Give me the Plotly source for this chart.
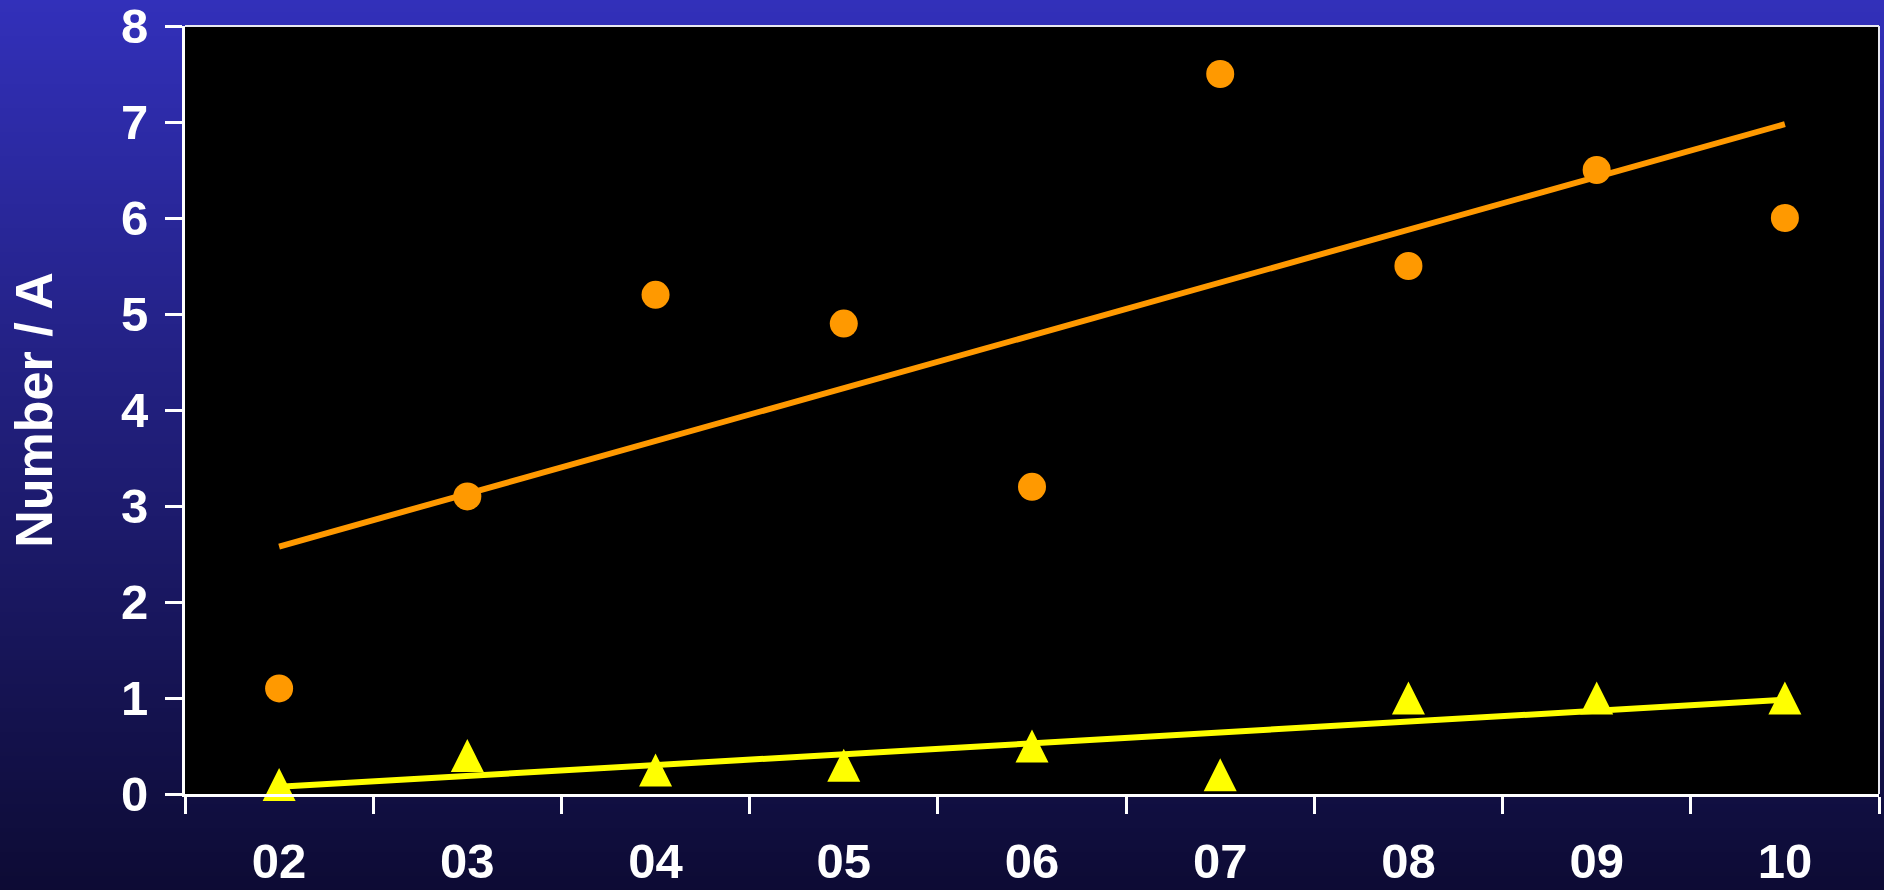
import numpy as np
import plotly.graph_objects as go

# ---- data ----
years = ["02", "03", "04", "05", "06", "07", "08", "09", "10"]
circle_values = [1.1, 3.1, 5.2, 4.9, 3.2, 7.5, 5.5, 6.5, 6.0]
triangle_values = [0.1, 0.4, 0.25, 0.3, 0.5, 0.2, 1.0, 1.0, 1.0]
y_tick_values = [0, 1, 2, 3, 4, 5, 6, 7, 8]
y_title = "Number / A"

# ---- layout geometry ----
W, H = 1884, 890
ML, MR, MT, MB = 185, 5, 26, 96
plot_w = W - ML - MR
plot_h = H - MT - MB
Y_MAX = 8

ORANGE = "#FF9900"
YELLOW = "#FFFF00"
FONT = "Liberation Sans, Arial, sans-serif"

idx = np.arange(len(years))


def trend(vals):
    m, b = np.polyfit(idx, np.asarray(vals, dtype=float), 1)
    return m * idx + b


TRI_SIZE = 33
tri_offset = (TRI_SIZE / 2) * Y_MAX / plot_h  # centre arrow-shaped triangle on point

fig = go.Figure()

fig.add_trace(go.Scatter(
    x=years, y=trend(circle_values), mode="lines",
    line=dict(color=ORANGE, width=6), hoverinfo="skip", showlegend=False))
fig.add_trace(go.Scatter(
    x=years, y=circle_values, mode="markers",
    marker=dict(symbol="circle", size=28, color=ORANGE, line=dict(width=0)),
    showlegend=False, cliponaxis=False))
fig.add_trace(go.Scatter(
    x=years, y=trend(triangle_values), mode="lines",
    line=dict(color=YELLOW, width=6), hoverinfo="skip", showlegend=False))
fig.add_trace(go.Scatter(
    x=years, y=triangle_values, mode="markers", yaxis="y2",
    marker=dict(symbol="arrow-up", size=TRI_SIZE, color=YELLOW, line=dict(width=0)),
    showlegend=False, cliponaxis=False))

# ---- gradient background (strips) ----
shapes = []
top = np.array([50, 48, 186])
bot = np.array([13, 11, 52])
step = 4
n = int(np.ceil(H / step))
for i in range(n):
    p0 = i * step - (10 if i == 0 else 0)
    p1 = p0 + step + 1 + (10 if i == n - 1 else 0) + (10 if i == 0 else 0)
    t = (i * step + step / 2) / H
    c = top + (bot - top) * t
    shapes.append(dict(
        type="rect", xref="paper", yref="paper", layer="below",
        x0=-ML / plot_w - 0.01, x1=1 + MR / plot_w + 0.01,
        y0=(H - MB - p1) / plot_h, y1=(H - MB - p0) / plot_h,
        line=dict(width=0),
        fillcolor="rgb(%d,%d,%d)" % tuple(np.round(c).astype(int))))
# black plot area
shapes.append(dict(type="rect", xref="paper", yref="paper", layer="below",
                   x0=0, x1=1, y0=0, y1=1, line=dict(width=0), fillcolor="black"))
# top and right frame lines
shapes.append(dict(type="line", xref="paper", yref="paper", x0=0, x1=1, y0=1, y1=1,
                   line=dict(color="#E8E8F0", width=2)))
shapes.append(dict(type="line", xref="paper", yref="paper", x0=1, x1=1, y0=0, y1=1,
                   line=dict(color="#E8E8F0", width=2)))

tick_font = dict(family=FONT, size=49, color="white", weight="bold")

fig.update_layout(
    width=W, height=H,
    margin=dict(l=ML, r=MR, t=MT, b=MB, pad=0, autoexpand=False),
    paper_bgcolor="rgb(13,11,52)",
    plot_bgcolor="black",
    shapes=shapes,
    showlegend=False,
    xaxis=dict(
        type="category", range=[-0.5, len(years) - 0.5], automargin=False,
        tickson="boundaries", ticks="outside", ticklen=17, tickwidth=3,
        tickcolor="white", showline=True, linecolor="white", linewidth=3,
        showgrid=False, zeroline=False, tickfont=tick_font,
        ticklabelstandoff=22, ticklabeloverflow="allow", fixedrange=True),
    yaxis=dict(
        range=[0, Y_MAX], tickmode="array", tickvals=y_tick_values,
        ticktext=[str(v) for v in y_tick_values], automargin=False,
        ticks="outside", ticklen=17, tickwidth=3, tickcolor="white",
        showline=True, linecolor="white", linewidth=3,
        showgrid=False, zeroline=False, tickfont=tick_font,
        ticklabelstandoff=7, ticklabeloverflow="allow",
        title=dict(text=y_title, standoff=52,
                   font=dict(family=FONT, size=52, color="white", weight="bold"))),
    yaxis2=dict(
        overlaying="y", range=[-tri_offset, Y_MAX - tri_offset], visible=False,
        automargin=False, showgrid=False, zeroline=False),
)

fig.write_html("out.html", include_plotlyjs=True, config={"displayModeBar": False})
